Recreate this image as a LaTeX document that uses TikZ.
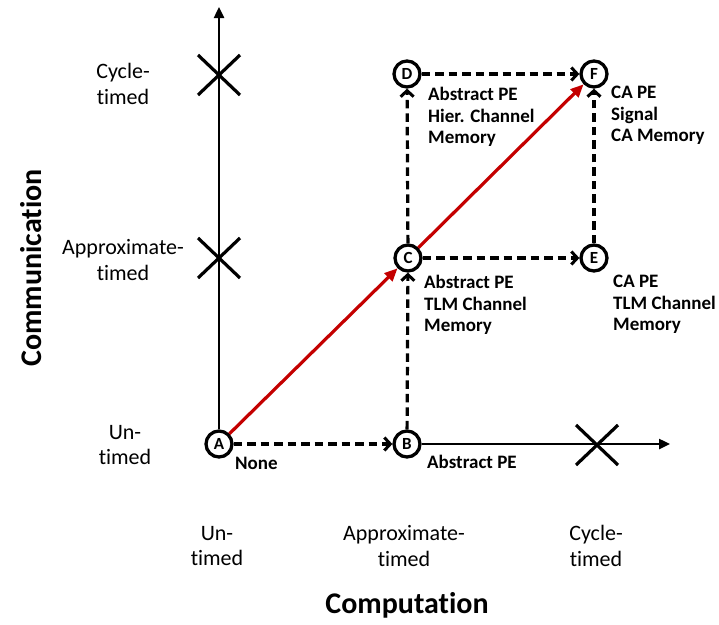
\documentclass[tikz,border=0pt]{standalone}
\usepackage{fontspec}
\setmainfont{Carlito}[Ligatures=NoCommon]
\usepackage{tikz}
\usetikzlibrary{arrows.meta}
\definecolor{rot}{RGB}{196,0,0}
\tikzset{
  pt/.style={circle,draw,fill=white,line width=3.3pt,minimum size=26pt,inner sep=0pt,font=\fontsize{17}{17}\selectfont\bfseries},
  ax/.style={-{Triangle[length=11pt,width=10pt]},line width=2.4pt},
  gestr/.style={-{Straight Barb[length=6pt,width=13pt,line width=3pt]},line width=3.2pt,dash pattern=on 8.5pt off 5pt},
  rotpf/.style={-{Triangle[length=13pt,width=11pt]},rot,line width=3.2pt},
  kreuz/.style={line width=3.2pt},
  lbl/.style={anchor=north west,inner sep=0pt,align=left,font=\fontsize{19}{21.5}\selectfont\bfseries},
  stufe/.style={inner sep=0pt,align=center,font=\fontsize{22}{25.5}\selectfont},
  titel/.style={inner sep=0pt,font=\fontsize{30}{30}\selectfont\bfseries},
}
\begin{document}
\begin{tikzpicture}[x=1pt,y=-1pt]
  \useasboundingbox (0,0) rectangle (719,624);
  % Knoten
  \node[pt] (A) at (219,444) {A};
  \node[pt] (B) at (407,444) {B};
  \node[pt] (C) at (408,258) {C};
  \node[pt] (D) at (407,74) {D};
  \node[pt] (E) at (594,258) {E};
  \node[pt] (F) at (594,74) {F};
  \coordinate (ytop) at (219,7);
  \coordinate (xend) at (670,444);
  % Achsen
  \draw[ax] (A) -- (ytop);
  \draw[ax] (B) -- (xend);
  \draw[kreuz] (198,55)--(240,95) (198,95)--(240,55);
  \draw[kreuz] (198,238)--(240,278) (198,278)--(240,238);
  \draw[kreuz] (576,425)--(618,465) (576,465)--(618,425);
  % Pfeile
  \draw[gestr] (A) -- (B);
  \draw[gestr] (B) -- (C);
  \draw[gestr] (C) -- (E);
  \draw[gestr] (C) -- (D);
  \draw[gestr] (D) -- (F);
  \draw[gestr] (E) -- (F);
  \draw[rotpf] (A) -- (C);
  \draw[rotpf] (C) -- (F);
  % Beschriftungen
  \node[lbl] (lA) at (235,457) {None};
  \node[lbl] (lB) at (427,455) {Abstract PE};
  \node[lbl] (lC) at (424,275) {Abstract PE\\TLM Channel\\Memory};
  \node[lbl] (lD) at (428,87) {Abstract PE\\Hier. Channel\\Memory};
  \node[lbl] (lE) at (613,275) {CA PE\\TLM Channel\\Memory};
  \node[lbl] (lF) at (611,86) {CA PE\\Signal\\CA Memory};
  \node[stufe] (k1) at (123,84) {Cycle-\\timed};
  \node[stufe] (k2) at (123,260) {Approximate-\\timed};
  \node[stufe] (k3) at (125,445) {Un-\\timed};
  \node[stufe] (r1) at (217,546) {Un-\\timed};
  \node[stufe] (r2) at (404,546) {Approximate-\\timed};
  \node[stufe] (r3) at (596,546) {Cycle-\\timed};
  \node[titel] (tx) at (407,605) {Computation};
  \node[titel,rotate=90] (ty) at (31,268) {Communication};
\end{tikzpicture}
\end{document}
